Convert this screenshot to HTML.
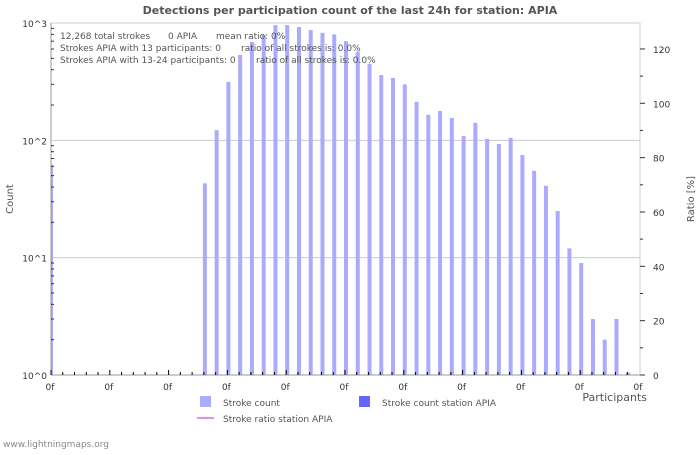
<!DOCTYPE html>
<html><head><meta charset="utf-8"><style>
body{margin:0;background:#fff;font-family:"Liberation Sans","DejaVu Sans",sans-serif}
svg text{font-family:"DejaVu Sans","Liberation Sans",sans-serif}
</style></head><body>
<svg id="c" width="700" height="450" viewBox="0 0 700 450">
<text x="350" y="14" text-anchor="middle" font-size="11" font-weight="bold" fill="#555">Detections per participation count of the last 24h for station: APIA</text>
<g id="grid"></g>
<rect x="51" y="23" width="589" height="352" fill="none" stroke="#ccc"/>
<g id="bars"></g>
<g id="axes"></g>
<g font-size="9" fill="#555">
<text x="60" y="39">12,268 total strokes</text><text x="168" y="39">0 APIA</text><text x="216" y="39">mean ratio: 0%</text>
<text x="60" y="51">Strokes APIA with 13 participants: 0</text><text x="241" y="51">ratio of all strokes is: 0.0%</text>
<text x="60" y="63">Strokes APIA with 13-24 participants: 0</text><text x="256" y="63">ratio of all strokes is: 0.0%</text>
</g>
<text x="13" y="199" transform="rotate(-90 13 199)" text-anchor="middle" font-size="10" fill="#555">Count</text>
<text x="694" y="199" transform="rotate(-90 694 199)" text-anchor="middle" font-size="10" fill="#555">Ratio [%]</text>
<text x="647" y="401" text-anchor="end" font-size="11" fill="#555">Participants</text>
<rect x="200" y="396" width="11" height="11" fill="#aaaaff"/>
<text x="223" y="406" font-size="9" fill="#555">Stroke count</text>
<rect x="359" y="396" width="11" height="11" fill="#6666ff"/>
<text x="382" y="406" font-size="9" fill="#555">Stroke count station APIA</text>
<line x1="197" y1="418" x2="214" y2="418" stroke="#ee88ee" stroke-width="2"/>
<text x="223" y="422" font-size="9" fill="#555">Stroke ratio station APIA</text>
<text x="3" y="447" font-size="9" fill="#888">www.lightningmaps.org</text>
</svg>
<script>
const participants=[0,1,2,3,4,5,6,7,8,9,10,11,12,13,14,15,16,17,18,19,20,21,22,23,24,25,26,27,28,29,30,31,32,33,34,35,36,37,38,39,40,41,42,43,44,45,46,47,48,49];
const strokeCounts=[62,0,0,0,0,0,0,0,0,0,0,0,0,43,122,314,535,690,790,960,960,925,870,825,800,700,570,450,360,340,300,213,165,178,155,109,141,103,93,105,75,55,41,25,12,9,3,2,3,1.05];
const stationCounts=participants.map(()=>0);
const yTicks=["10^0","10^1","10^2","10^3"];
const y2Ticks=[0,20,40,60,80,100,120];
const xLabels=["0f","0f","0f","0f","0f","0f","0f","0f","0f","0f","0f"];
const NS="http://www.w3.org/2000/svg";
const X0=51,STEP=11.76,Y0=375,DEC=117.33;
const xs=i=>X0+i*STEP;
const ys=v=>Y0-Math.log10(v)*DEC;
const y2=v=>Y0-v*2.717;
function mk(t,a,p){const e=document.createElementNS(NS,t);for(const k in a)e.setAttribute(k,a[k]);p.appendChild(e);return e;}
const grid=document.getElementById('grid'),bars=document.getElementById('bars'),axes=document.getElementById('axes');
[1,2].forEach(d=>{const l=mk('line',{x1:51,x2:640,y1:ys(Math.pow(10,d)),y2:ys(Math.pow(10,d)),stroke:'#ccc'},grid);

});
participants.forEach((p,i)=>{const v=strokeCounts[i];if(v>1){const w=i===0?2:4;const r=mk('rect',{x:i===0?xs(i):xs(i)-1,y:ys(v),width:w,height:Y0-ys(v),fill:'#aaaaff'},bars);

}
const s=stationCounts[i];if(s>1){const r2=mk('rect',{x:xs(i)+3,y:ys(s),width:4,height:Y0-ys(s),fill:'#6666ff'},bars);

}});
mk('line',{x1:51,x2:51,y1:23,y2:375,stroke:'#999'},axes);
mk('line',{x1:51,x2:640,y1:375,y2:375,stroke:'#999'},axes);
yTicks.forEach((t,d)=>{const y=Y0-d*DEC;const tx=mk('text',{x:47,y:y+4,'text-anchor':'end','font-size':9,fill:'#333'},axes);tx.textContent=t;


if(d<3)for(let m=2;m<=9;m++){const yy=Y0-(d+Math.log10(m))*DEC;mk('line',{x1:51,x2:54,y1:yy,y2:yy,stroke:'#333'},axes);}});
y2Ticks.forEach(v=>{const tx=mk('text',{x:653,y:y2(v)+4,'font-size':9,fill:'#333'},axes);tx.textContent=v;


mk('line',{x1:640,x2:645,y1:y2(v),y2:y2(v),stroke:'#333'},axes);
if(v<120){const m=y2(v+10);mk('line',{x1:640,x2:643,y1:m,y2:m,stroke:'#333'},axes);}});
participants.forEach((p,i)=>{mk('line',{x1:xs(i),x2:xs(i),y1:375,y2:i%5==0?370:372,stroke:'#000'},axes);});
xLabels.forEach((t,k)=>{const tx=mk('text',{x:xs(k*5)-1,y:390,'text-anchor':'middle','font-size':9,fill:'#333'},axes);tx.textContent=t;

});
</script>
</body></html>
